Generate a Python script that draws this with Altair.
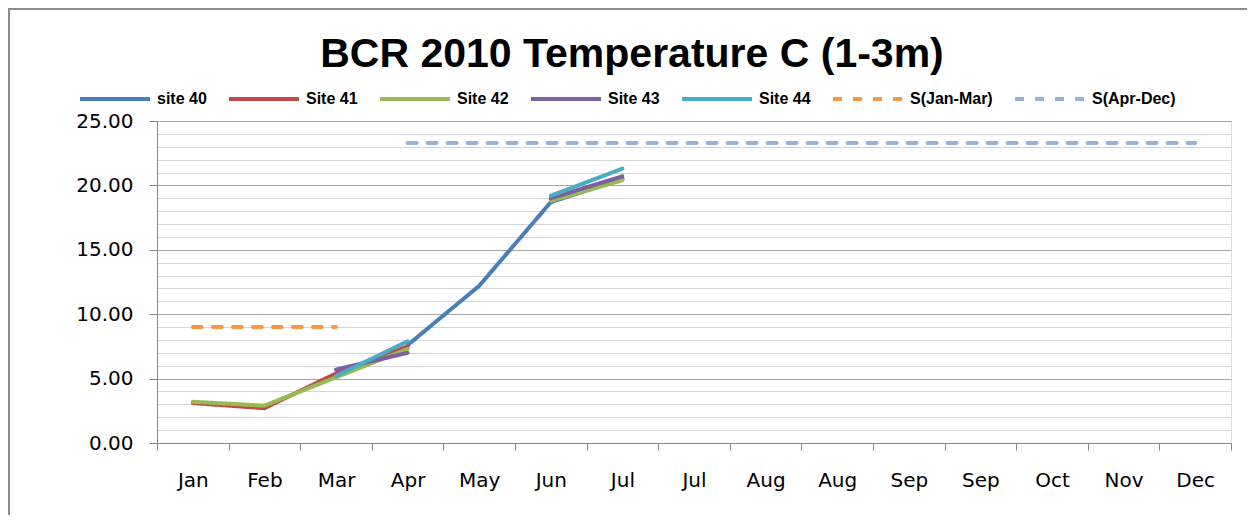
import altair as alt
import pandas as pd

months = ["Jan", "Feb", "Mar", "Apr", "May", "Jun", "Jul", "Jul",
          "Aug", "Aug", "Sep", "Sep", "Oct", "Nov", "Dec"]
series_names = ["site 40", "Site 41", "Site 42", "Site 43", "Site 44",
                "S(Jan-Mar)", "S(Apr-Dec)"]
series_colors = ["#4A7EBB", "#BE4B48", "#98B954", "#7D60A0", "#4BACC6",
                 "#F79646", "#95B3D7"]
N = None
site40 = [N, N, N, 7.6, 12.2, 18.7, 20.5, N, N, N, N, N, N, N, N]
site41 = [3.1, 2.7, 5.4, 7.5, N, 18.9, 20.5, N, N, N, N, N, N, N, N]
site42 = [3.2, 2.9, 5.1, 7.3, N, 18.8, 20.4, N, N, N, N, N, N, N, N]
site43 = [N, N, 5.7, 7.0, N, 19.0, 20.7, N, N, N, N, N, N, N, N]
site44 = [N, N, 5.2, 7.9, N, 19.2, 21.3, N, N, N, N, N, N, N, N]
std_jan_mar = [9.0, 9.0, 9.0, N, N, N, N, N, N, N, N, N, N, N, N]
std_apr_dec = [N, N, N, 23.3, 23.3, 23.3, 23.3, 23.3, 23.3, 23.3, 23.3, 23.3, 23.3, 23.3, 23.3]
y_ticks = list(range(0, 26))
title_text = "BCR 2010 Temperature C (1-3m)"

all_series = [site40, site41, site42, site43, site44, std_jan_mar, std_apr_dec]

rows = []
for name, vals in zip(series_names, all_series):
    seg = 0
    prev = None
    for i, v in enumerate(vals):
        if v is None:
            if prev is not None:
                seg += 1
            prev = None
            continue
        rows.append({"idx": i, "value": v, "series": name, "seg": f"{name}-{seg}"})
        prev = v
df = pd.DataFrame(rows)

W, H = 1074, 322
PAD_L, PAD_T, PAD_R, PAD_B = 149, 113, 16, 72

label_expr = "[" + ",".join(f"'{m}'" for m in months) + "][datum.value]"

legend = alt.Legend(
    orient="none", legendX=-79, legendY=-59, direction="horizontal", title=None,
    symbolType="stroke", symbolSize=4900, symbolStrokeWidth=4,
    labelFont="Liberation Sans", labelFontSize=16, labelFontWeight="bold",
    labelColor="#000000", labelOffset=5, columnPadding=14, padding=0,
)

dash_range = [[1, 0], [1, 0], [1, 0], [1, 0], [1, 0], [9, 11], [9, 11]]

lines = alt.Chart(df).mark_line(strokeWidth=4, strokeCap="round", strokeJoin="round").encode(
    x=alt.X("idx:O",
            scale=alt.Scale(type="band", domain=list(range(len(months))), paddingInner=0, paddingOuter=0),
            bandPosition=0.5,
            axis=alt.Axis(title=None, labelExpr=label_expr, tickBand="extent", labelAngle=0,
                          grid=False, domainColor="#868686", tickColor="#868686", tickSize=7,
                          labelPadding=20, labelFont="DejaVu Sans", labelFontSize=20,
                          labelColor="#000000")),
    y=alt.Y("value:Q",
            scale=alt.Scale(domain=[0, 25], nice=False),
            axis=alt.Axis(title=None, values=y_ticks,
                          labelExpr="datum.value % 5 === 0 ? format(datum.value, '.2f') : ''",
                          labelOverlap=False, labelFlush=False,
                          gridColor=alt.condition("datum.value % 5 === 0", alt.value("#A6A6A6"), alt.value("#D6D6D6")),
                          tickOpacity=alt.condition("datum.value % 5 === 0", alt.value(1), alt.value(0)),
                          tickColor="#868686", domainColor="#868686", tickSize=8, labelPadding=16,
                          labelFont="DejaVu Sans", labelFontSize=20, labelColor="#000000")),
    color=alt.Color("series:N", scale=alt.Scale(domain=series_names, range=series_colors), legend=legend),
    strokeDash=alt.StrokeDash("series:N", scale=alt.Scale(domain=series_names, range=dash_range), legend=legend),
    detail="seg:N",
    order="idx:O",
)

base = alt.Chart(pd.DataFrame({"f": [0]}))

frame = base.mark_rect(filled=False, stroke="#8C8C8C", strokeWidth=2).encode(
    x=alt.value(-148), x2=alt.value(W + 200), y=alt.value(-112), y2=alt.value(H + 300)
)

title = base.mark_text(font="Liberation Sans", fontSize=41, fontWeight="bold", color="#000000",
                       align="center", baseline="alphabetic").encode(
    x=alt.value(475), y=alt.value(-54), text=alt.value(title_text)
)

chart = alt.layer(frame, lines, title).properties(
    width=W, height=H,
    autosize=alt.AutoSizeParams(type="none"),
    padding={"left": PAD_L, "top": PAD_T, "right": PAD_R, "bottom": PAD_B},
).configure_view(stroke=None).configure(background="white")

chart.save("out.html", embed_options={"renderer": "svg", "actions": False})
